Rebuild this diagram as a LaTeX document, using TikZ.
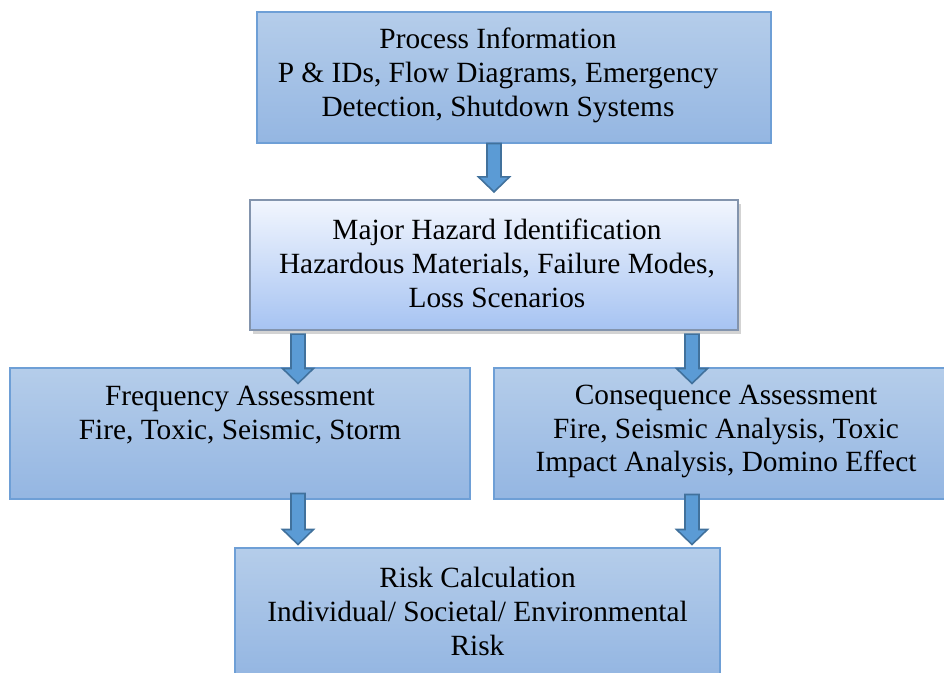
\documentclass[tikz,border=0pt]{standalone}
\usepackage{fontspec}
\setmainfont{Liberation Serif}
\usetikzlibrary{calc,shadows}
\definecolor{boxtop}{HTML}{B5CDEA}
\definecolor{boxbot}{HTML}{94B6E2}
\definecolor{boxedge}{HTML}{6E9FD6}
\definecolor{hltop}{HTML}{F2F6FE}
\definecolor{hlbot}{HTML}{A6C3F2}
\definecolor{hledge}{HTML}{8394AD}
\definecolor{arfill}{HTML}{5B9BD5}
\definecolor{aredge}{HTML}{41719C}
\tikzset{
  stepbox/.style={rectangle, inner sep=0pt, draw=boxedge, line width=0.6pt,
    top color=boxtop, bottom color=boxbot},
  hlbox/.style={rectangle, inner sep=0pt, draw=hledge, line width=1.2pt,
    top color=hltop, bottom color=hlbot,
    drop shadow={opacity=0.35, shadow xshift=1.5pt, shadow yshift=-2pt}},
  txt/.style={align=center, inner sep=0pt, font=\fontsize{16.7}{19.3}\selectfont},
  barrow/.style={fill=arfill, draw=aredge, line width=0.9pt, line join=miter}
}
\newcommand\blockarrow[2]{%
  \draw[barrow] ($(#1)+(-7,0)$) -- ($(#2)+(-7,-15)$) -- ($(#2)+(-15.5,-15)$) -- (#2)
   -- ($(#2)+(15.5,-15)$) -- ($(#2)+(7,-15)$) -- ($(#1)+(7,0)$) -- cycle;}
\begin{document}
\begin{tikzpicture}[x=0.02cm,y=-0.02cm]
\useasboundingbox (0,0) rectangle (944,673);
% boxes
\node[stepbox, minimum width=514*0.02cm, minimum height=131*0.02cm] (b1) at (514,77.5) {};
\node[hlbox, minimum width=488*0.02cm, minimum height=130*0.02cm] (b2) at (494,265) {};
\node[stepbox, minimum width=460*0.02cm, minimum height=131*0.02cm] (b3) at (240,433.5) {};
\node[stepbox, minimum width=452*0.02cm, minimum height=131*0.02cm] (b4) at (720,433.5) {};
\node[stepbox, minimum width=485*0.02cm, minimum height=128*0.02cm] (b5) at (477.5,612) {};
% texts
\node[txt] (t1) at (498,75) {Process Information\\P \& IDs, Flow Diagrams, Emergency\\Detection, Shutdown Systems};
\node[txt] (t2) at (497,263.5) {Major Hazard Identification\\Hazardous Materials, Failure Modes,\\Loss Scenarios};
\node[txt] (t3) at (240,415) {Frequency Assessment\\Fire, Toxic, Seismic, Storm};
\node[txt] (t4) at (726,431.5) {Consequence Assessment\\Fire, Seismic Analysis, Toxic\\Impact Analysis, Domino Effect};
\node[txt] (t5) at (477.5,611.5) {Risk Calculation\\Individual/ Societal/ Environmental\\Risk};
% arrow x positions
\coordinate (xa) at (494,0);
\coordinate (xl) at (298,0);
\coordinate (xr) at (692,0);
\path (b1.south -| xa) coordinate (a1s)
      ($(b2.north -| xa)+(0,-7)$) coordinate (a1e)
      ($(b2.south -| xl)+(0,3)$) coordinate (a2s)
      ($(b3.north -| xl)+(0,16)$) coordinate (a2e)
      ($(b2.south -| xr)+(0,3)$) coordinate (a3s)
      ($(b4.north -| xr)+(0,16)$) coordinate (a3e)
      ($(b3.south -| xl)+(0,-6)$) coordinate (a4s)
      ($(b5.north -| xl)+(0,-3)$) coordinate (a4e)
      ($(b4.south -| xr)+(0,-5)$) coordinate (a5s)
      ($(b5.north -| xr)+(0,-3)$) coordinate (a5e);
\blockarrow{a1s}{a1e}
\blockarrow{a2s}{a2e}
\blockarrow{a3s}{a3e}
\blockarrow{a4s}{a4e}
\blockarrow{a5s}{a5e}
\end{tikzpicture}
\end{document}
